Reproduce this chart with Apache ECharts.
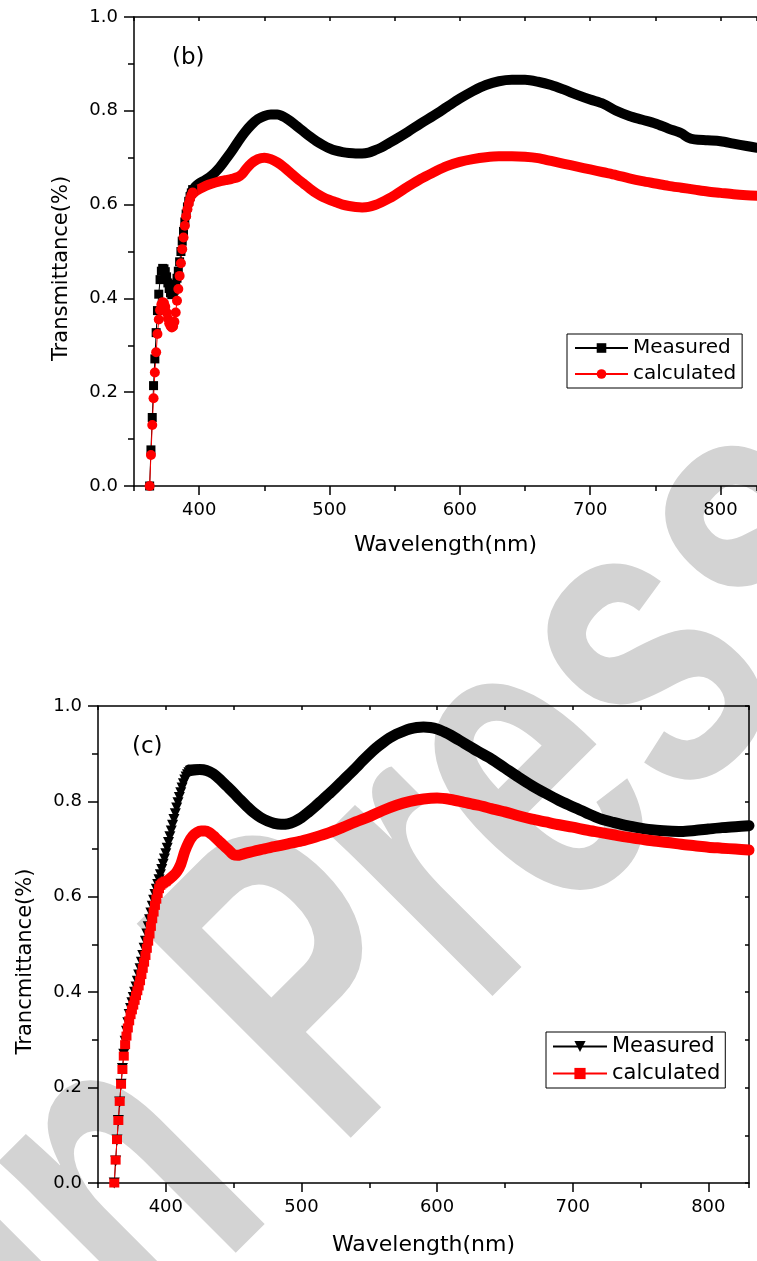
<!DOCTYPE html>
<html>
<head>
<meta charset="utf-8">
<script src="https://cdn.jsdelivr.net/npm/echarts@6/dist/echarts.min.js"></script>
<style>
html, body { margin: 0; padding: 0; background: #fff; }
#chartB { position: absolute; left: 0; top: 0; width: 757px; height: 620px; }
#chartC { position: absolute; left: 0; top: 620px; width: 757px; height: 641px; }
</style>
</head>
<body>
<div id="chartB"></div>
<div id="chartC"></div>
<script>
// (b) measured, steep start read point by point (1 nm)
var bMeasHead = [[362,0],[363,0.077],[364,0.146],[365,0.214],[366,0.271],[367,0.327],[368,0.374],[369,0.409],[370,0.44],[371,0.458],[372,0.464],[373,0.463],[374,0.457],[375,0.446],[376,0.433],[377,0.421],[378,0.412],[379,0.408],[380,0.41],[381,0.418],[382,0.43],[383,0.443],[384,0.458],[385,0.478],[386,0.5],[387,0.522],[388,0.543],[389,0.563],[390,0.58],[391,0.595],[392,0.607],[393,0.617],[394,0.625],[395,0.632]];
// (b) measured, rest of the curve
var bMeasBody = [[394,0.625],[397,0.638],[400,0.645],[405,0.653],[410,0.663],[415,0.677],[420,0.695],[425,0.714],[430,0.735],[435,0.754],[440,0.77],[445,0.782],[450,0.789],[455,0.792],[460,0.792],[465,0.787],[470,0.778],[475,0.767],[480,0.756],[485,0.745],[490,0.735],[495,0.727],[500,0.72],[505,0.715],[510,0.712],[515,0.71],[520,0.709],[525,0.709],[530,0.711],[535,0.716],[540,0.722],[545,0.73],[550,0.738],[560,0.755],[570,0.773],[580,0.79],[590,0.808],[600,0.826],[610,0.842],[620,0.855],[630,0.863],[640,0.866],[650,0.866],[660,0.862],[670,0.855],[680,0.845],[690,0.834],[700,0.824],[710,0.815],[720,0.8],[730,0.789],[740,0.781],[750,0.773],[760,0.762],[770,0.752],[775,0.743],[780,0.739],[790,0.737],[800,0.735],[810,0.73],[820,0.725],[828,0.721]];
// (b) calculated
var bCalcHead = [[362,0],[363,0.066],[364,0.13],[365,0.187],[366,0.242],[367,0.285],[368,0.324],[369,0.355],[370,0.375],[371,0.387],[372,0.392],[373,0.39],[374,0.382],[375,0.37],[376,0.357],[377,0.347],[378,0.341],[379,0.338],[380,0.34],[381,0.35],[382,0.37],[383,0.395],[384,0.42],[385,0.448],[386,0.475],[387,0.505],[388,0.53],[389,0.555],[390,0.575],[391,0.59],[392,0.602],[393,0.612],[394,0.62],[395,0.626]];
var bCalcBody = [[394,0.62],[397,0.628],[400,0.633],[405,0.64],[410,0.645],[415,0.649],[420,0.652],[425,0.655],[430,0.659],[433,0.665],[436,0.676],[440,0.688],[445,0.697],[450,0.7],[455,0.697],[460,0.69],[465,0.68],[470,0.668],[475,0.656],[480,0.645],[485,0.634],[490,0.624],[495,0.616],[500,0.61],[505,0.605],[510,0.6],[515,0.597],[520,0.595],[525,0.594],[530,0.595],[535,0.599],[540,0.605],[545,0.612],[550,0.62],[560,0.638],[570,0.655],[580,0.669],[590,0.682],[600,0.691],[610,0.697],[620,0.701],[630,0.703],[640,0.703],[650,0.702],[660,0.699],[670,0.693],[680,0.687],[690,0.681],[700,0.675],[710,0.669],[720,0.663],[730,0.656],[740,0.65],[750,0.645],[760,0.64],[770,0.636],[780,0.632],[790,0.628],[800,0.625],[810,0.622],[820,0.62],[828,0.619]];

// (c) measured
var cMeasHead = [[362,0],[363,0.046],[364,0.09],[365,0.131],[366,0.17],[367,0.207],[368,0.24],[369,0.27],[370,0.297],[371,0.318],[372,0.336],[373,0.353],[374,0.366],[375,0.378],[376,0.389],[377,0.4],[378,0.411],[379,0.423],[380,0.436],[381,0.449],[382,0.463],[383,0.477],[384,0.492],[385,0.507],[386,0.522],[387,0.537],[388,0.552],[389,0.566],[390,0.58],[391,0.593],[392,0.605],[393,0.616],[394,0.626],[395,0.636],[396,0.646],[397,0.657],[398,0.668],[399,0.679],[400,0.69],[401,0.702],[402,0.714],[403,0.726],[404,0.738],[405,0.75],[406,0.762],[407,0.774],[408,0.786],[409,0.797],[410,0.808],[411,0.818],[412,0.828],[413,0.837],[414,0.845],[415,0.851],[416,0.856],[417,0.86],[418,0.863],[419,0.865],[420,0.866]];
var cMeasBody = [[419,0.865],[425,0.867],[430,0.865],[435,0.858],[440,0.846],[445,0.832],[450,0.818],[455,0.803],[460,0.789],[465,0.776],[470,0.766],[475,0.759],[480,0.754],[485,0.752],[490,0.753],[495,0.758],[500,0.766],[505,0.777],[510,0.789],[515,0.802],[520,0.815],[525,0.828],[530,0.842],[535,0.856],[540,0.87],[545,0.885],[550,0.899],[555,0.912],[560,0.923],[565,0.933],[570,0.941],[575,0.947],[580,0.952],[585,0.955],[590,0.956],[595,0.955],[600,0.952],[605,0.946],[610,0.939],[620,0.922],[630,0.905],[640,0.889],[650,0.87],[660,0.851],[670,0.833],[680,0.817],[690,0.802],[700,0.789],[710,0.776],[720,0.764],[730,0.756],[740,0.749],[750,0.744],[760,0.74],[770,0.738],[780,0.737],[790,0.739],[800,0.742],[810,0.745],[820,0.747],[830,0.749]];
// (c) calculated
var cCalcHead = [[362,0],[363,0.048],[364,0.091],[365,0.131],[366,0.171],[367,0.207],[368,0.238],[369,0.266],[370,0.29],[371,0.308],[372,0.325],[373,0.34],[374,0.353],[375,0.363],[376,0.373],[377,0.383],[378,0.393],[379,0.403],[380,0.413],[381,0.424],[382,0.437],[383,0.45],[384,0.463],[385,0.477],[386,0.492],[387,0.507],[388,0.522],[389,0.538],[390,0.554],[391,0.568],[392,0.582],[393,0.595],[394,0.607],[395,0.617],[396,0.624],[397,0.627],[398,0.629],[399,0.631],[400,0.633]];
var cCalcBody = [[399,0.631],[402,0.636],[405,0.643],[408,0.652],[411,0.668],[414,0.695],[417,0.715],[420,0.728],[423,0.735],[426,0.738],[429,0.738],[432,0.735],[435,0.728],[438,0.72],[441,0.712],[444,0.704],[447,0.696],[450,0.688],[453,0.687],[456,0.689],[460,0.692],[470,0.699],[480,0.705],[490,0.711],[500,0.717],[510,0.725],[520,0.734],[530,0.745],[540,0.757],[550,0.768],[560,0.781],[570,0.792],[580,0.8],[590,0.805],[600,0.807],[610,0.804],[620,0.798],[630,0.792],[640,0.785],[650,0.778],[660,0.77],[670,0.763],[680,0.757],[690,0.751],[700,0.746],[710,0.74],[720,0.735],[730,0.73],[740,0.725],[750,0.721],[760,0.717],[770,0.714],[780,0.71],[790,0.707],[800,0.704],[810,0.702],[820,0.7],[830,0.698]];

var majorTicks = [400, 500, 600, 700, 800];
var legendNames = ['Measured', 'calculated'];

var FONT = "'DejaVu Sans', sans-serif";
var AXIS_LINE = {color: '#000', width: 1.5};

// grey "In Press" stamp across the page (page coordinates)
function stamp(offsetY) {
    return {
        type: 'text', x: 4, y: 1313 - offsetY, rotation: Math.PI / 4, scaleX: 0.68,
        z: -10, silent: true,
        style: {
            text: 'In Press', fill: '#d3d3d3', font: "bold 440px 'Liberation Sans'",
            textAlign: 'left', textVerticalAlign: 'middle', align: 'left', verticalAlign: 'middle'
        }
    };
}

function xAxes(xMax, nameGap) {
    return [
        { // bottom line + 50 nm short ticks
            type: 'value', min: 350, max: xMax, interval: 50, position: 'bottom',
            axisLine: {show: true, onZero: false, lineStyle: AXIS_LINE},
            axisTick: {show: true, length: 5, lineStyle: AXIS_LINE},
            axisLabel: {show: false},
            splitLine: {show: false}
        },
        { // 100 nm long ticks with labels
            type: 'value', min: 350, max: xMax, position: 'bottom',
            axisLine: {show: false, onZero: false},
            axisTick: {show: true, length: 9, customValues: majorTicks, lineStyle: AXIS_LINE},
            axisLabel: {
                show: true, margin: 15, color: '#000', fontSize: 18, fontFamily: FONT,
                customValues: majorTicks,
                formatter: function (v) { return v % 100 === 0 ? String(v) : ''; }
            },
            splitLine: {show: false},
            name: 'Wavelength(nm)', nameLocation: 'middle', nameGap: nameGap,
            nameTextStyle: {color: '#000', fontSize: 22, fontFamily: FONT}
        },
        { // top frame
            type: 'value', min: 350, max: xMax, interval: 50, position: 'top',
            axisLine: {show: true, onZero: false, lineStyle: AXIS_LINE},
            axisTick: {show: true, inside: true, length: 4, lineStyle: AXIS_LINE},
            axisLabel: {show: false},
            splitLine: {show: false}
        }
    ];
}

function yAxisLeft(name) {
    return {
        type: 'value', min: 0, max: 1, interval: 0.2, position: 'left',
        axisLine: {show: true, lineStyle: AXIS_LINE},
        axisTick: {show: true, length: 10, lineStyle: AXIS_LINE},
        minorTick: {show: true, splitNumber: 2, length: 6, lineStyle: AXIS_LINE},
        axisLabel: {
            margin: 16, color: '#000', fontSize: 18, fontFamily: FONT,
            formatter: function (v) { return v.toFixed(1); }
        },
        splitLine: {show: false},
        name: name, nameLocation: 'middle', nameGap: 62,
        nameTextStyle: {color: '#000', fontSize: 21, fontFamily: FONT, padding: [0, 34, 0, 0]}
    };
}

function headSeries(name, data, color, symbol, size, rotate) {
    return {
        name: name, type: 'line', xAxisIndex: 0, yAxisIndex: 0, data: data,
        symbol: symbol, symbolSize: size, symbolRotate: rotate || 0, showSymbol: true,
        itemStyle: {color: color},
        lineStyle: {color: color, width: 1},
        emphasis: {disabled: true}
    };
}

function bodySeries(name, data, color, width) {
    return {
        name: name, type: 'line', xAxisIndex: 0, yAxisIndex: 0, data: data,
        symbol: 'none', showSymbol: false, smooth: 0.3,
        itemStyle: {color: color},
        lineStyle: {color: color, width: width, cap: 'round', join: 'round'},
        emphasis: {disabled: true}
    };
}

function legendBox(left, top, itemWidth, itemHeight, fontSize, padding) {
    return {
        data: legendNames, orient: 'vertical', left: left, top: top,
        padding: padding, itemWidth: itemWidth, itemHeight: itemHeight, itemGap: 6,
        borderColor: '#000', borderWidth: 1, backgroundColor: '#fff',
        selectedMode: false,
        textStyle: {color: '#000', fontSize: fontSize, fontFamily: FONT}
    };
}

var chartB = echarts.init(document.getElementById('chartB'));
var chartC = echarts.init(document.getElementById('chartC'));

chartB.setOption({
    animation: false,
    grid: {left: 134, right: -6, top: 17, bottom: 134},
    xAxis: xAxes(828, 48),
    yAxis: [yAxisLeft('Transmittance(%)')],
    legend: legendBox(567, 334, 53, 12, 20, [4, 6, 4, 7]),
    graphic: [stamp(0), {
        type: 'text', left: 172, top: 47,
        style: {text: '(b)', fill: '#000', font: "23px 'DejaVu Sans'"}
    }],
    series: [
        headSeries('Measured', bMeasHead, '#000', 'rect', 9),
        bodySeries('Measured', bMeasBody, '#000', 10),
        headSeries('calculated', bCalcHead, '#ff0000', 'circle', 10),
        bodySeries('calculated', bCalcBody, '#ff0000', 10)
    ]
});

chartC.setOption({
    animation: false,
    grid: {left: 98, right: 8, top: 86, bottom: 75},
    xAxis: xAxes(830, 51),
    yAxis: [yAxisLeft('Trancmittance(%)'), {
        type: 'value', min: 0, max: 1, interval: 0.1, position: 'right',
        axisLine: {show: true, lineStyle: AXIS_LINE},
        axisTick: {show: true, inside: true, length: 4, lineStyle: AXIS_LINE},
        axisLabel: {show: false},
        splitLine: {show: false}
    }],
    legend: legendBox(546, 412, 54, 14, 21, [4, 5, 4, 6]),
    graphic: [stamp(620), {
        type: 'text', left: 132, top: 116,
        style: {text: '(c)', fill: '#000', font: "23px 'DejaVu Sans'"}
    }],
    series: [
        headSeries('Measured', cMeasHead, '#000', 'triangle', 11, 180),
        bodySeries('Measured', cMeasBody, '#000', 11),
        headSeries('calculated', cCalcHead, '#ff0000', 'rect', [10, 9]),
        bodySeries('calculated', cCalcBody, '#ff0000', 11)
    ]
});

window.onresize = function () {
    chartB.resize();
    chartC.resize();
};
</script>
</body>
</html>
